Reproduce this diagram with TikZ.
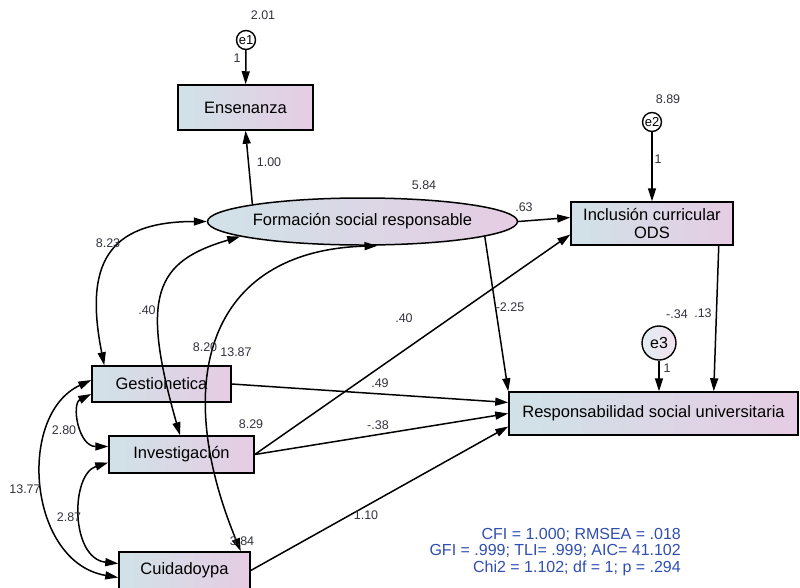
\documentclass[tikz,border=0pt]{standalone}
\usepackage{fontspec}
\setmainfont{Liberation Sans}
\usetikzlibrary{arrows.meta,shapes.geometric}
\definecolor{boxleft}{RGB}{208,226,231}
\definecolor{boxright}{RGB}{230,204,228}
\definecolor{fitblue}{RGB}{48,78,178}
\definecolor{numgray}{RGB}{50,50,62}
\tikzset{
  obs/.style={draw, line width=1.5pt, left color=boxleft, right color=boxright, inner sep=0pt, font=\fontsize{16.5}{18}\selectfont},
  lat/.style={obs, ellipse},
  err/.style={circle, draw, line width=1.4pt, fill=white, inner sep=0pt, minimum size=19pt, font=\fontsize{13}{13}\selectfont},
  regr/.style={line width=1.5pt, -{Triangle[length=13pt,width=8pt]}},
  cov/.style={line width=1.5pt, {Triangle[length=13pt,width=8pt]}-{Triangle[length=13pt,width=8pt]}},
  est/.style={font=\fontsize{12.5}{12.5}\selectfont, text=numgray, inner sep=0pt}
}
\begin{document}
\begin{tikzpicture}[x=1pt,y=-1pt]
  \useasboundingbox (0,0) rectangle (800,587);
  \node[err] (e1) at (246,40) {e1};
  \node[obs, minimum width=135pt, minimum height=45pt] (ens) at (245.5,107.5) {Ensenanza};
  \node[lat, minimum width=271pt, minimum height=47pt] (fsr) at (362.5,221.5) {Formación social responsable};
  \node[err] (e2) at (652,122) {e2};
  \node[obs, minimum width=162pt, minimum height=43pt, align=center] (inc) at (652,223.5) {Inclusión curricular\\ODS};
  \node[err, minimum size=34pt, left color=boxleft!60!white, right color=boxright!60!white, font=\fontsize{16}{16}\selectfont] (e3) at (659,343) {e3};
  \node[obs, minimum width=289pt, minimum height=43pt] (rsu) at (653.5,413.5) {Responsabilidad social universitaria};
  \node[obs, minimum width=139pt, minimum height=36pt] (ges) at (161.5,384) {Gestionetica};
  \node[obs, minimum width=145pt, minimum height=37pt] (inv) at (181.5,454.5) {Investigación};
  \node[obs, minimum width=131pt, minimum height=37pt] (cui) at (184.5,570.5) {Cuidadoypa};

  \draw[regr] (e1) -- (ens);
  \draw[regr] (fsr.north west) -- (ens.south);
  \draw[regr] (fsr.east) -- ([yshift=6pt]inc.west);
  \draw[regr] (fsr.-7) -- (rsu.north west);
  \draw[regr] (e2) -- (inc);
  \draw[regr] ([xshift=-15pt]inc.south east) -- ([xshift=-85pt]rsu.north east);
  \draw[regr] (e3) -- (e3 |- rsu.north);
  \draw[regr] (ges.east) -- ([yshift=11pt]rsu.west);
  \draw[regr] (inv.east) -- (rsu.west);
  \draw[regr] (inv.east) -- ([yshift=-11pt]inc.west);
  \draw[regr] (cui.east) -- ([yshift=-13pt]rsu.west);

  \draw[cov] ([xshift=13pt]ges.north west) .. controls +(-20,-100) and +(-100,0) .. (fsr.west);
  \draw[cov] ([xshift=-1.5pt]inv.north) .. controls +(-40,-140) and +(-85,25) .. (fsr.187);
  \draw[cov] ([xshift=-10pt]cui.north east) .. controls +(-70,-170) and +(-170,5) .. ([xshift=15pt]fsr.south);
  \draw[cov] ([yshift=-10pt]ges.west) .. controls +(-20,10) and +(-30,0) .. ([yshift=8pt]inv.west);
  \draw[cov] ([yshift=4pt]ges.west) .. controls +(-75,35) and +(-90,-15) .. ([yshift=-7pt]cui.west);
  \draw[cov] ([yshift=-8pt]inv.west) .. controls +(-38,12) and +(-48,-5) .. ([yshift=7pt]cui.west);

  \node[est] (ve1) at (263,15) {2.01};
  \node[est] (w1) at (237,58) {1};
  \node[est] (ve2) at (668,99) {8.89};
  \node[est] (w2) at (658,159) {1};
  \node[est] (w3) at (667,368) {1};
  \node[est] (vfsr) at (424,185) {5.84};
  \node[est] (lens) at (269,162) {1.00};
  \node[est] (linc) at (524,207) {.63};
  \node[est] (lrsu) at (510,307) {-2.25};
  \node[est] (lincr) at (677,314) {-.34};
  \node[est] (lr) at (703,313) {.13};
  \node[est] (linvinc) at (404,318) {.40};
  \node[est] (lges) at (380,383) {.49};
  \node[est] (linv) at (378,425) {-.38};
  \node[est] (lcui) at (366,515) {1.10};
  \node[est] (cov1) at (108,243) {8.23};
  \node[est] (cov2) at (147,310) {.40};
  \node[est] (vges) at (205,347) {8.20};
  \node[est] (cov3) at (236,352) {13.87};
  \node[est] (vinv) at (251,424) {8.29};
  \node[est] (cov4) at (64,430) {2.80};
  \node[est] (cov5) at (25,489) {13.77};
  \node[est] (cov6) at (69,517) {2.87};
  \node[est] (vcui) at (242,541) {3.84};
  \node[font=\fontsize{16}{16.5}\selectfont, text=fitblue, align=right, anchor=east, inner sep=0pt] (fit) at (681,552) {CFI = 1.000; RMSEA = .018\\GFI = .999; TLI= .999; AIC= 41.102\\Chi2 = 1.102; df = 1; p = .294};
\end{tikzpicture}
\end{document}
